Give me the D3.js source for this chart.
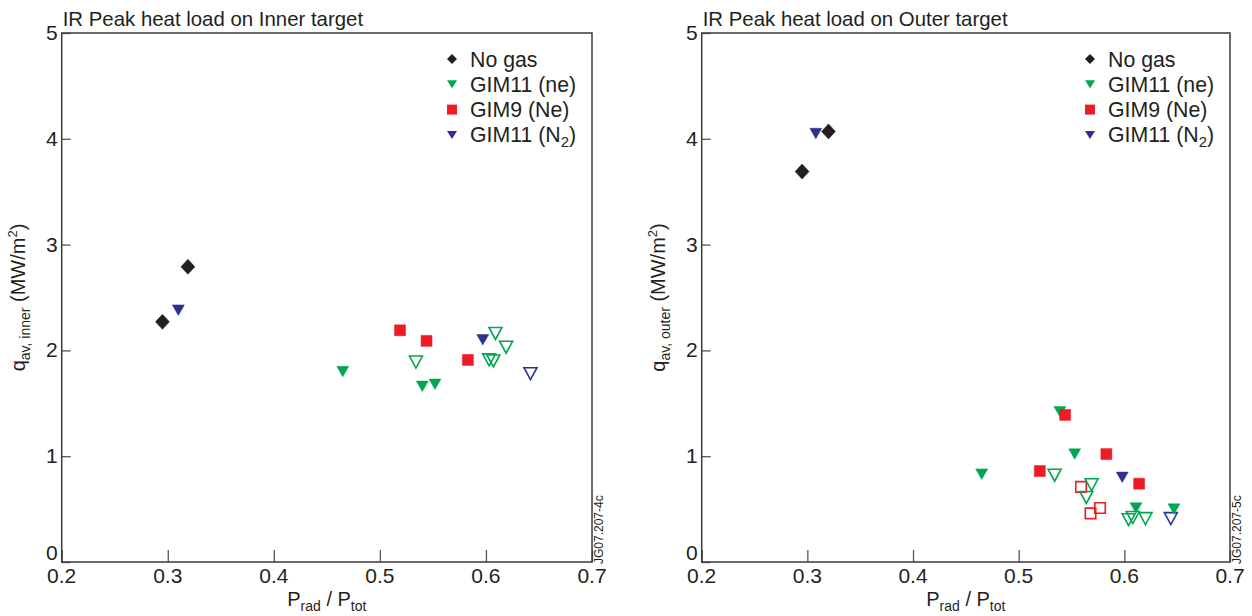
<!DOCTYPE html>
<html>
<head>
<meta charset="utf-8">
<script src="https://cdn.jsdelivr.net/npm/d3@7"></script>
<style>
  html, body { margin: 0; padding: 0; background: #fff; }
  svg { display: block; font-family: "Liberation Sans", Arial, Helvetica, sans-serif; }
</style>
</head>
<body>
<svg id="chart" width="1252" height="616"></svg>
<script>
// ---------- data ----------
const xTicks = [0.2, 0.3, 0.4, 0.5, 0.6, 0.7];
const yTicks = [0, 1, 2, 3, 4, 5];
const legendLabels = ["No gas", "GIM11 (ne)", "GIM9 (Ne)", "GIM11 (N2)"];

// Inner target  [Prad/Ptot, q]
const innerNoGas        = [[0.295, 2.27], [0.319, 2.79]];
const innerGim11neFill  = [[0.465, 1.80], [0.540, 1.66], [0.552, 1.68]];
const innerGim11neOpen  = [[0.534, 1.89], [0.609, 2.16], [0.619, 2.03], [0.603, 1.91], [0.607, 1.90]];
const innerGim9NeFill   = [[0.519, 2.19], [0.544, 2.09], [0.583, 1.91]];
const innerGim9NeOpen   = [];
const innerGim11N2Fill  = [[0.310, 2.38], [0.597, 2.10]];
const innerGim11N2Open  = [[0.642, 1.78]];

// Outer target
const outerNoGas        = [[0.320, 4.07], [0.295, 3.69]];
const outerGim11neFill  = [[0.465, 0.83], [0.539, 1.42], [0.553, 1.02], [0.611, 0.51], [0.647, 0.50]];
const outerGim11neOpen  = [[0.534, 0.82], [0.569, 0.73], [0.564, 0.61], [0.604, 0.40], [0.608, 0.42], [0.620, 0.41]];
const outerGim9NeFill   = [[0.544, 1.39], [0.583, 1.02], [0.520, 0.86], [0.614, 0.74]];
const outerGim9NeOpen   = [[0.559, 0.71], [0.577, 0.51], [0.568, 0.46]];
const outerGim11N2Fill  = [[0.308, 4.05], [0.598, 0.80]];
const outerGim11N2Open  = [[0.644, 0.41]];

// ---------- styles ----------
const COL = { black: "#231f20", green: "#00a651", red: "#ed1c24", blue: "#2e3192" };
const TXT = "#231f20";

const svg = d3.select("#chart");

function markerPath(shape, cx, cy, s) {
  if (shape === "tri") {
    const w = s.w, h = s.h;
    return `M${cx - w / 2},${cy - h / 2}L${cx + w / 2},${cy - h / 2}L${cx},${cy + h / 2}Z`;
  }
  if (shape === "sq") {
    const a = s.w / 2;
    return `M${cx - a},${cy - a}L${cx + a},${cy - a}L${cx + a},${cy + a}L${cx - a},${cy + a}Z`;
  }
  const a = s.w / 2, b = s.h / 2;
  return `M${cx},${cy - b}L${cx + a},${cy}L${cx},${cy + b}L${cx - a},${cy}Z`;
}

function drawPanel(cfg) {
  const g = svg.append("g");
  const x = d3.scaleLinear().domain([0.2, 0.7]).range([cfg.x0, cfg.x1]);
  const y = d3.scaleLinear().domain([0, 5]).range([cfg.y1, cfg.y0]);

  const xAxis = d3.axisTop(x).tickValues(xTicks).tickSize(12).tickFormat("");
  g.append("g").attr("transform", `translate(0,${cfg.y1})`).call(xAxis)
    .call(a => a.select(".domain").remove())
    .call(a => a.selectAll("line").attr("stroke", "#555").attr("stroke-width", 1.3));
  const yAxis = d3.axisRight(y).tickValues(yTicks).tickSize(9).tickFormat("");
  g.append("g").attr("transform", `translate(${cfg.x0},0)`).call(yAxis)
    .call(a => a.select(".domain").remove())
    .call(a => a.selectAll("line").attr("stroke", "#555").attr("stroke-width", 1.3));

  g.append("rect").attr("x", cfg.x0).attr("y", cfg.y0)
    .attr("width", cfg.x1 - cfg.x0).attr("height", cfg.y1 - cfg.y0)
    .attr("fill", "none").attr("stroke", "#3a3a3a").attr("stroke-width", 1.5);

  g.selectAll(".xl").data(xTicks).join("text")
    .attr("x", d => x(d)).attr("y", cfg.y1 + 21)
    .attr("text-anchor", "middle").attr("font-size", 21).attr("fill", TXT)
    .text(d => d.toFixed(1));
  g.selectAll(".yl").data(yTicks).join("text")
    .attr("x", cfg.x0 - 4).attr("y", d => y(d) + (d === 0 ? -2 : 7))
    .attr("text-anchor", "end").attr("font-size", 21).attr("fill", TXT)
    .text(d => d);

  g.append("text").attr("x", cfg.x0 + 1).attr("y", 26)
    .attr("font-size", 20.4).attr("fill", TXT).text(cfg.title);

  const yl = g.append("text")
    .attr("transform", `translate(${cfg.x0 - 37},${(cfg.y0 + cfg.y1) / 2}) rotate(-90)`)
    .attr("text-anchor", "middle").attr("font-size", 20).attr("fill", TXT);
  yl.append("tspan").text("q");
  yl.append("tspan").attr("font-size", 14).attr("dy", 5).text(cfg.ysub);
  yl.append("tspan").attr("dy", -5).text(" (MW/m");
  yl.append("tspan").attr("font-size", 13).attr("dy", -8).text("2");
  yl.append("tspan").attr("dy", 8).text(")");

  const xl = g.append("text")
    .attr("x", (cfg.x0 + cfg.x1) / 2).attr("y", 606)
    .attr("text-anchor", "middle").attr("font-size", 20).attr("fill", TXT);
  xl.append("tspan").text("P");
  xl.append("tspan").attr("font-size", 14).attr("dy", 5).text("rad");
  xl.append("tspan").attr("dy", -5).text(" / P");
  xl.append("tspan").attr("font-size", 14).attr("dy", 5).text("tot");

  g.append("text")
    .attr("transform", `translate(${cfg.x1 + 11},${cfg.y1 + 2}) rotate(-90)`)
    .attr("font-size", 12).attr("fill", TXT).text(cfg.code);

  cfg.series.forEach(s => {
    g.append("g").selectAll("path").data(s.data).join("path")
      .attr("d", d => markerPath(s.shape, x(d[0]), y(d[1]), s.size))
      .attr("fill", s.open ? "none" : s.color)
      .attr("stroke", s.color)
      .attr("stroke-width", s.open ? 1.6 : 0.5)
      .attr("stroke-linejoin", "miter");
  });

  const lg = g.append("g");
  const lx = cfg.x1 - 140, lt = cfg.x1 - 122;
  const rows = [
    { shape: "dia", color: COL.black, size: { w: 10, h: 10 } },
    { shape: "tri", color: COL.green, size: { w: 10, h: 8 } },
    { shape: "sq",  color: COL.red,   size: { w: 10, h: 10 } },
    { shape: "tri", color: COL.blue,  size: { w: 10, h: 8 } }
  ];
  rows.forEach((r, i) => {
    const cy = 59 + i * 25.3;
    lg.append("path").attr("d", markerPath(r.shape, lx, cy, r.size)).attr("fill", r.color);
    const t = lg.append("text").attr("x", lt).attr("y", cy + 7.5)
      .attr("font-size", 21.3).attr("fill", TXT);
    const lab = legendLabels[i];
    if (lab.endsWith("(N2)")) {
      t.append("tspan").text("GIM11 (N");
      t.append("tspan").attr("font-size", 15).attr("dy", 5).text("2");
      t.append("tspan").attr("dy", -5).text(")");
    } else {
      t.text(lab);
    }
  });
}

const triF = { w: 12, h: 10.5 }, triO = { w: 13, h: 12 }, sqF = { w: 11 }, sqO = { w: 10.5 }, dia = { w: 14, h: 15 };

drawPanel({
  x0: 61.7, x1: 592, y0: 33, y1: 562,
  title: "IR Peak heat load on Inner target", ysub: "av, inner", code: "JG07.207-4c",
  series: [
    { data: innerGim11neOpen, shape: "tri", color: COL.green, open: true, size: triO },
    { data: innerGim11N2Open, shape: "tri", color: COL.blue, open: true, size: triO },
    { data: innerGim9NeOpen,  shape: "sq",  color: COL.red,  open: true, size: sqO },
    { data: innerGim11neFill, shape: "tri", color: COL.green, size: triF },
    { data: innerGim11N2Fill, shape: "tri", color: COL.blue, size: triF },
    { data: innerGim9NeFill,  shape: "sq",  color: COL.red,  size: sqF },
    { data: innerNoGas,       shape: "dia", color: COL.black, size: dia }
  ]
});

drawPanel({
  x0: 701.7, x1: 1230, y0: 33, y1: 562,
  title: "IR Peak heat load on Outer target", ysub: "av, outer", code: "JG07.207-5c",
  series: [
    { data: outerGim9NeOpen,  shape: "sq",  color: COL.red,  open: true, size: sqO },
    { data: outerGim11neOpen, shape: "tri", color: COL.green, open: true, size: triO },
    { data: outerGim11N2Open, shape: "tri", color: COL.blue, open: true, size: triO },
    { data: outerGim11neFill, shape: "tri", color: COL.green, size: triF },
    { data: outerGim11N2Fill, shape: "tri", color: COL.blue, size: triF },
    { data: outerGim9NeFill,  shape: "sq",  color: COL.red,  size: sqF },
    { data: outerNoGas,       shape: "dia", color: COL.black, size: dia }
  ]
});
</script>
</body>
</html>
